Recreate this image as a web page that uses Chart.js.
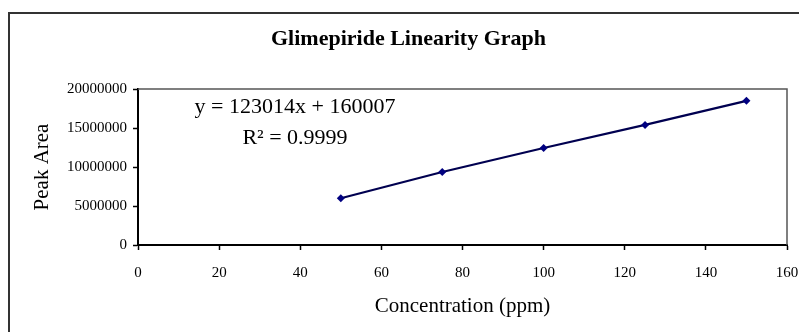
<!DOCTYPE html>
<html>
<head>
<meta charset="utf-8">
<script src="https://cdn.jsdelivr.net/npm/chart.js@4"></script>
<style>
  html, body { margin: 0; padding: 0; background: #fff; }
  canvas { display: block; }
</style>
</head>
<body>
<canvas id="linearityChart" width="799" height="332"></canvas>
<script>
// Data
const concentrations = [50, 75, 100, 125, 150];
const peakAreas = [6000000, 9360000, 12440000, 15400000, 18480000];
const equationLines = ['y = 123014x + 160007', 'R² = 0.9999'];

const serif = "'Liberation Serif', 'Times New Roman', serif";

// outer frame + plot box + regression text
const decorations = {
  id: 'decorations',
  beforeDraw(chart) {
    const c = chart.ctx;
    c.save();
    c.fillStyle = '#fff';
    c.fillRect(0, 0, chart.width, chart.height);
    c.strokeStyle = '#333';
    c.lineWidth = 2;
    c.strokeRect(9, 13, chart.width + 20, chart.height + 20);
    c.restore();
  },
  afterDatasetsDraw(chart) {
    const c = chart.ctx;
    const a = chart.chartArea;
    c.save();
    c.strokeStyle = '#555';
    c.lineWidth = 1.5;
    c.beginPath();
    c.moveTo(a.left, a.top);
    c.lineTo(a.right, a.top);
    c.lineTo(a.right, a.bottom);
    c.stroke();
    c.fillStyle = '#000';
    c.font = '22px ' + serif;
    c.textAlign = 'center';
    c.textBaseline = 'middle';
    c.fillText(equationLines[0], 295, 107);
    c.fillText(equationLines[1], 295, 138);
    c.restore();
  }
};

new Chart(document.getElementById('linearityChart'), {
  type: 'scatter',
  data: {
    datasets: [{
      data: concentrations.map((x, i) => ({ x: x, y: peakAreas[i] })),
      showLine: true,
      borderColor: '#000050',
      borderWidth: 2.2,
      backgroundColor: '#000080',
      pointStyle: 'rectRot',
      pointRadius: 4,
      pointBorderWidth: 0
    }]
  },
  options: {
    responsive: false,
    animation: false,
    layout: { padding: { left: 30, right: 12, top: 0, bottom: 0 } },
    plugins: {
      legend: { display: false },
      tooltip: { enabled: false },
      title: {
        display: true,
        text: 'Glimepiride Linearity Graph',
        color: '#000',
        font: { family: serif, size: 22, weight: 'bold', lineHeight: 1.2 },
        padding: { top: 26, bottom: 36.6 }
      }
    },
    scales: {
      x: {
        type: 'linear',
        min: 0,
        max: 160,
        afterFit: s => { s.height = 87; s.paddingLeft = 0; s.paddingRight = 0; },
        ticks: {
          stepSize: 20,
          color: '#000',
          padding: 14,
          maxRotation: 0,
          font: { family: serif, size: 15 }
        },
        grid: { drawOnChartArea: false, tickLength: 5, tickColor: '#000', tickWidth: 1.5 },
        border: { color: '#000', width: 2 },
        title: {
          display: true,
          text: 'Concentration (ppm)',
          color: '#000',
          font: { family: serif, size: 21, lineHeight: 1.2 },
          padding: { top: 0, bottom: 13.4 }
        }
      },
      y: {
        min: 0,
        max: 20000000,
        afterFit: s => { s.width = 108; s.paddingTop = 0; s.paddingBottom = 0; },
        ticks: {
          stepSize: 5000000,
          color: '#000',
          padding: 6,
          font: { family: serif, size: 15 },
          callback: v => String(v)
        },
        grid: { drawOnChartArea: false, tickLength: 5, tickColor: '#000', tickWidth: 1.5 },
        border: { color: '#000', width: 2 },
        title: {
          display: true,
          text: 'Peak Area',
          color: '#000',
          font: { family: serif, size: 21, lineHeight: 1.2 },
          padding: { top: 0, bottom: 0 }
        }
      }
    }
  },
  plugins: [decorations]
});
</script>
</body>
</html>
